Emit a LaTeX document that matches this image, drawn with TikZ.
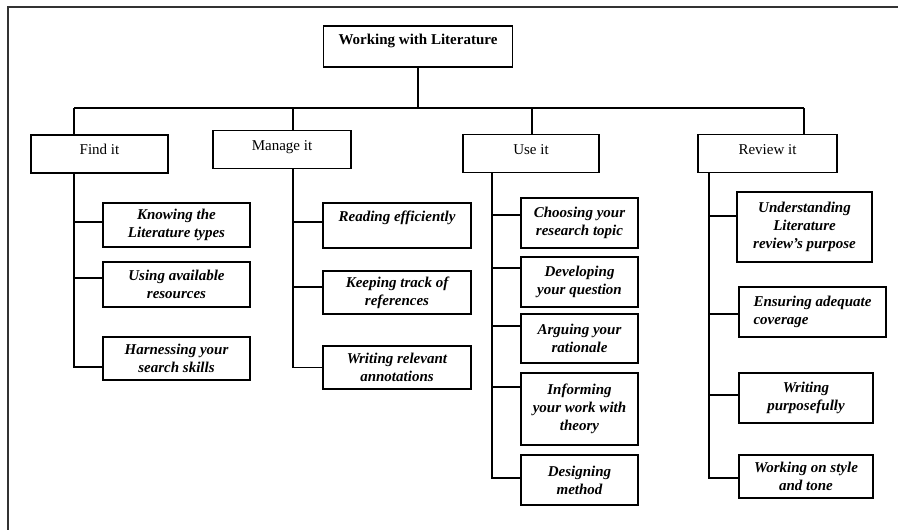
\documentclass[tikz,border=0pt]{standalone}
\usepackage{fontspec}
\setmainfont{Liberation Serif}

\begin{document}
\begin{tikzpicture}[x=1pt,y=-1pt,line width=1.2pt]
  \tikzstyle{rootbox}=[draw,font=\fontsize{15}{18}\selectfont\bfseries,inner ysep=0pt,text height=19pt,text depth=22pt]
  \tikzstyle{headbox}=[draw,font=\fontsize{15}{18}\selectfont,inner ysep=0pt,text height=19.5pt,text depth=18.5pt]
  \tikzstyle{itembox}=[draw,align=center,font=\fontsize{15}{18}\selectfont\bfseries\itshape,inner sep=1pt]

  \useasboundingbox (0,0) rectangle (898,530);
  \draw[line width=1.3pt,black!80] (8,530) -- (8,7) -- (898,7);

  \node[rootbox,minimum width=189pt] (root)   at (418,46.5)   {Working with Literature};
  \node[headbox,minimum width=137pt] (find)   at (99.5,154)   {Find it};
  \node[headbox,minimum width=138pt] (manage) at (282,149.5)  {Manage it};
  \node[headbox,minimum width=136pt] (use)    at (531,153.5)  {Use it};
  \node[headbox,minimum width=139pt] (review) at (767.5,153.5) {Review it};

  % find it
  \node[itembox,minimum width=147pt,minimum height=44pt] (know)   at (176.5,225)   {Knowing the\\Literature types};
  \node[itembox,minimum width=147pt,minimum height=45pt] (avail)  at (176.5,284.5) {Using available\\resources};
  \node[itembox,minimum width=147pt,minimum height=43pt] (skills) at (176.5,358.5) {Harnessing your\\search skills};

  % manage it
  \node[itembox,minimum width=148pt,minimum height=45pt] (read)  at (397,225.5) {Reading efficiently\\\mbox{}};
  \node[itembox,minimum width=148pt,minimum height=43pt] (track) at (397,292.5) {Keeping track of\\references};
  \node[itembox,minimum width=148pt,minimum height=43pt] (annot) at (397,367.5) {Writing relevant\\annotations};

  % use it
  \node[itembox,minimum width=117pt,minimum height=50pt] (topic)     at (579.5,223)   {Choosing your\\research topic};
  \node[itembox,minimum width=117pt,minimum height=50pt] (question)  at (579.5,282)   {Developing\\your question};
  \node[itembox,minimum width=117pt,minimum height=49pt] (rationale) at (579.5,338.5) {Arguing your\\rationale};
  \node[itembox,minimum width=117pt,minimum height=72pt] (theory)    at (579.5,409)   {Informing\\your work with\\theory};
  \node[itembox,minimum width=117pt,minimum height=50pt] (method)    at (579.5,480)   {Designing\\method};

  % review it
  \node[itembox,minimum width=135pt,minimum height=70pt] (purpose)    at (804.5,227) {Understanding\\Literature\\review's purpose};
  \node[itembox,align=left,minimum width=147pt,minimum height=50pt] (coverage) at (812.5,312) {Ensuring adequate\\coverage};
  \node[itembox,minimum width=134pt,minimum height=50pt] (purposeful) at (806,398)   {Writing\\purposefully};
  \node[itembox,minimum width=134pt,minimum height=43pt] (tone)       at (806,476.5) {Working on style\\and tone};

  \coordinate (findbus)   at (74,108);
  \coordinate (managebus) at (293,108);
  \coordinate (usebus)    at (532,108);
  \coordinate (reviewbus) at (804,108);
  \coordinate (usespine)    at (492,173);
  \coordinate (reviewspine) at (709,173);

  \draw (root.south) -- (root.south |- findbus);
  \draw (findbus) -- (reviewbus);
  \draw (findbus) -- (findbus |- find.north);
  \draw (managebus) -- (managebus |- manage.north);
  \draw (usebus) -- (usebus |- use.north);
  \draw (reviewbus) -- (reviewbus |- review.north);

  \draw (findbus |- find.south) |- ([yshift=3pt]know.west);
  \draw (findbus |- find.south) |- ([yshift=6.5pt]avail.west);
  \draw (findbus |- find.south) |- ([yshift=-8.5pt]skills.west);

  \draw (managebus |- manage.south) |- ([yshift=3.5pt]read.west);
  \draw (managebus |- manage.south) |- ([yshift=5.5pt]track.west);
  \draw (managebus |- manage.south) |- (annot.west);

  \draw (usespine) |- ([yshift=8pt]topic.west);
  \draw (usespine) |- ([yshift=14pt]question.west);
  \draw (usespine) |- ([yshift=12.5pt]rationale.west);
  \draw (usespine) |- ([yshift=22pt]theory.west);
  \draw (usespine) |- ([yshift=2pt]method.west);

  \draw (reviewspine) |- ([yshift=11pt]purpose.west);
  \draw (reviewspine) |- ([yshift=-2pt]coverage.west);
  \draw (reviewspine) |- ([yshift=3pt]purposeful.west);
  \draw (reviewspine) |- ([yshift=-1.5pt]tone.west);
\end{tikzpicture}
\end{document}
